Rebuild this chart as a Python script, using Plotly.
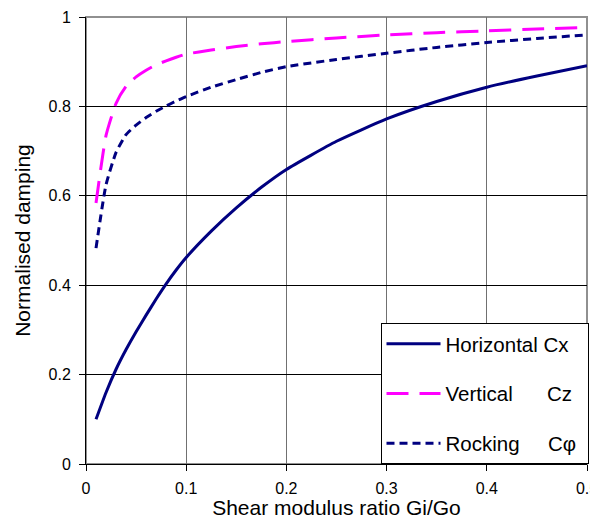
import plotly.graph_objects as go

shear_ratio = [0.01, 0.02, 0.03, 0.04, 0.05, 0.06, 0.07, 0.08, 0.09, 0.10,
               0.125, 0.15, 0.175, 0.20, 0.25, 0.30, 0.35, 0.40, 0.45, 0.50]
horizontal_cx = [0.100, 0.160, 0.212, 0.256, 0.296, 0.333, 0.369, 0.403, 0.434, 0.462,
                 0.521, 0.573, 0.619, 0.659, 0.722, 0.772, 0.811, 0.843, 0.868, 0.891]
vertical_cz = [0.584, 0.735, 0.807, 0.845, 0.866, 0.881, 0.893, 0.902, 0.910, 0.917,
               0.926, 0.934, 0.940, 0.945, 0.953, 0.960, 0.965, 0.969, 0.973, 0.977]
rocking_cphi = [0.483, 0.625, 0.697, 0.737, 0.758, 0.775, 0.789, 0.801, 0.812, 0.822,
                0.843, 0.860, 0.876, 0.889, 0.905, 0.919, 0.932, 0.943, 0.952, 0.960]

series_names = ["Horizontal\u00a0Cx", "Vertical\u00a0\u00a0\u00a0\u00a0\u00a0\u00a0Cz",
                "Rocking\u00a0\u00a0\u00a0\u00a0\u00a0Cφ\u00a0"]

FONT = "Liberation Sans, Arial, sans-serif"

fig = go.Figure()
fig.add_trace(go.Scatter(x=shear_ratio, y=horizontal_cx, mode="lines", name=series_names[0],
                         line=dict(color="#000080", width=3, shape="spline", smoothing=0.5),
                         legendgroup="a"))
fig.add_trace(go.Scatter(x=shear_ratio, y=vertical_cz, mode="lines", name=series_names[1],
                         line=dict(color="#FF00FF", width=3, dash="22px,11px", shape="spline", smoothing=0.5),
                         legendgroup="b"))
fig.add_trace(go.Scatter(x=shear_ratio, y=rocking_cphi, mode="lines", name=series_names[2],
                         line=dict(color="#000080", width=3, dash="8px,5px", shape="spline", smoothing=0.5),
                         legendgroup="c"))

fig.update_layout(
    width=598, height=511,
    margin=dict(l=78, r=19, t=9, b=55),
    paper_bgcolor="white", plot_bgcolor="white",
    font=dict(family=FONT, color="black", size=16),
    showlegend=True,
    legend=dict(x=1.003, xanchor="right", y=0, yanchor="bottom",
                bordercolor="black", borderwidth=1, bgcolor="white",
                font=dict(size=20.5, family=FONT), itemwidth=54,
                tracegroupgap=20, traceorder="grouped"),
    xaxis=dict(range=[0, 0.5], dtick=0.1, tick0=0, showgrid=True, gridcolor="#707070", gridwidth=1,
               ticks="outside", ticklen=6, tickcolor="black", showline=True, linecolor="black",
               mirror=False, zeroline=False, tickfont=dict(size=16), automargin=False,
               ticklabelstandoff=4, ticklabeloverflow="allow",
               title=dict(text="Shear modulus ratio Gi/Go", font=dict(size=21), standoff=4)),
    yaxis=dict(range=[0, 1], dtick=0.2, tick0=0, showgrid=True, gridcolor="black", gridwidth=1,
               ticks="outside", ticklen=6, tickcolor="black", showline=True, linecolor="black",
               zeroline=False, tickfont=dict(size=16), ticklabelstandoff=5, automargin=False,
               title=dict(text="Normalised damping", font=dict(size=21), standoff=12)),
)
# plot-area frame (top and right)
fig.add_shape(type="rect", xref="paper", yref="paper", x0=0, y0=0, x1=1, y1=1,
              line=dict(color="#909090", width=2), layer="below")

fig.write_html("out.html")
